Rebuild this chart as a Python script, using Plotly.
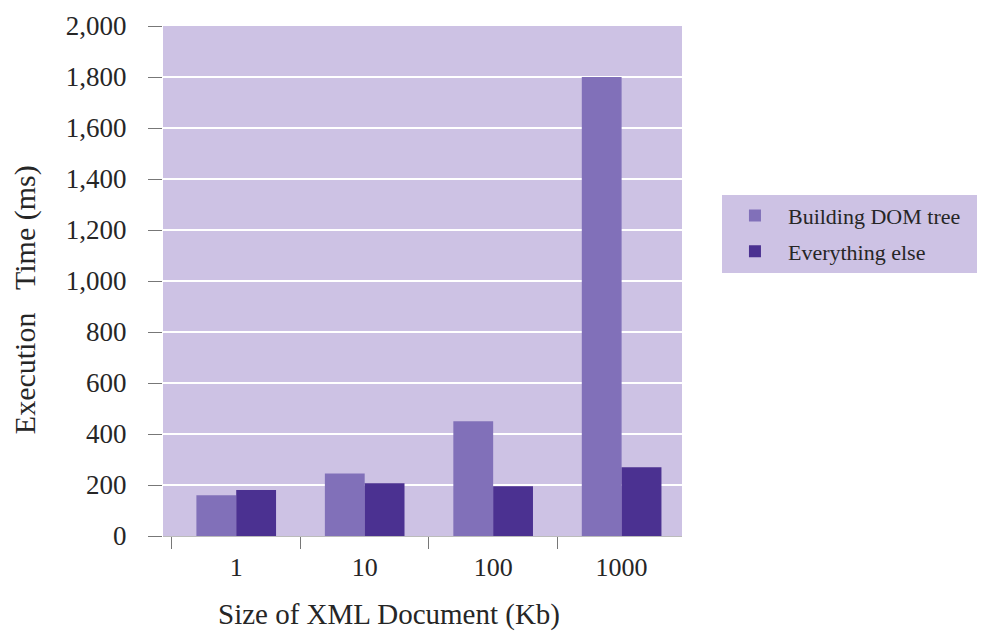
import plotly.graph_objects as go

categories = ["1", "10", "100", "1000"]
building_dom = [160, 245, 450, 1800]
everything_else = [180, 207, 195, 270]
y_ticks = [0, 200, 400, 600, 800, 1000, 1200, 1400, 1600, 1800, 2000]
y_tick_labels = ["0", "200", "400", "600", "800", "1,000", "1,200", "1,400", "1,600", "1,800", "2,000"]

font_family = "Liberation Serif, Times New Roman, serif"
text_color = "#262626"

fig = go.Figure()
fig.add_trace(go.Bar(name="Building DOM tree\u00a0\u00a0", x=categories, y=building_dom,
                     marker=dict(color="#8170b9", line=dict(width=0)), legendgroup="a"))
fig.add_trace(go.Bar(name="Everything else", x=categories, y=everything_else,
                     marker=dict(color="#4b3191", line=dict(width=0)), legendgroup="b"))

fig.update_layout(
    width=977, height=628,
    margin=dict(l=155, r=303, t=18, b=100, autoexpand=False),
    paper_bgcolor="white",
    plot_bgcolor="#cdc2e4",
    barmode="group",
    bargap=0.38,
    bargroupgap=0,
    font=dict(family=font_family, color=text_color),
    showlegend=True,
    legend=dict(
        x=1.077, y=0.669, xanchor="left", yanchor="top",
        bgcolor="#cdc2e4", borderwidth=0,
        font=dict(family=font_family, size=22, color=text_color),
        tracegroupgap=4,
        itemwidth=56,
    ),
    xaxis=dict(
        type="category",
        range=[-0.57, 3.47],
        automargin=False,
        showgrid=False,
        ticks="outside", tickson="boundaries", ticklen=12, tickcolor="#777777",
        showline=True, linecolor="#bbbbbb", linewidth=1,
        tickfont=dict(family=font_family, size=26, color=text_color),
        ticklabelstandoff=8,
    ),
    yaxis=dict(
        range=[0, 2000],
        automargin=False,
        tickvals=y_ticks, ticktext=y_tick_labels,
        showgrid=True, gridcolor="white", gridwidth=2,
        zeroline=False,
        ticks="outside", ticklen=14, tickcolor="#777777",
        ticklabelstandoff=16,
        tickfont=dict(family=font_family, size=27, color=text_color),
        title=dict(text="Execution\u00a0\u00a0\u00a0Time (ms)\u00a0\u00a0\u00a0\u00a0\u00a0\u200b",
                   font=dict(family=font_family, size=30, color=text_color), standoff=22),
    ),
    annotations=[
        dict(text="Size of XML Document (Kb)", xref="paper", yref="paper",
             x=0.435, y=-0.153, xanchor="center", yanchor="middle", showarrow=False,
             font=dict(family=font_family, size=29, color=text_color)),
    ],
)

fig.write_html("out.html")
